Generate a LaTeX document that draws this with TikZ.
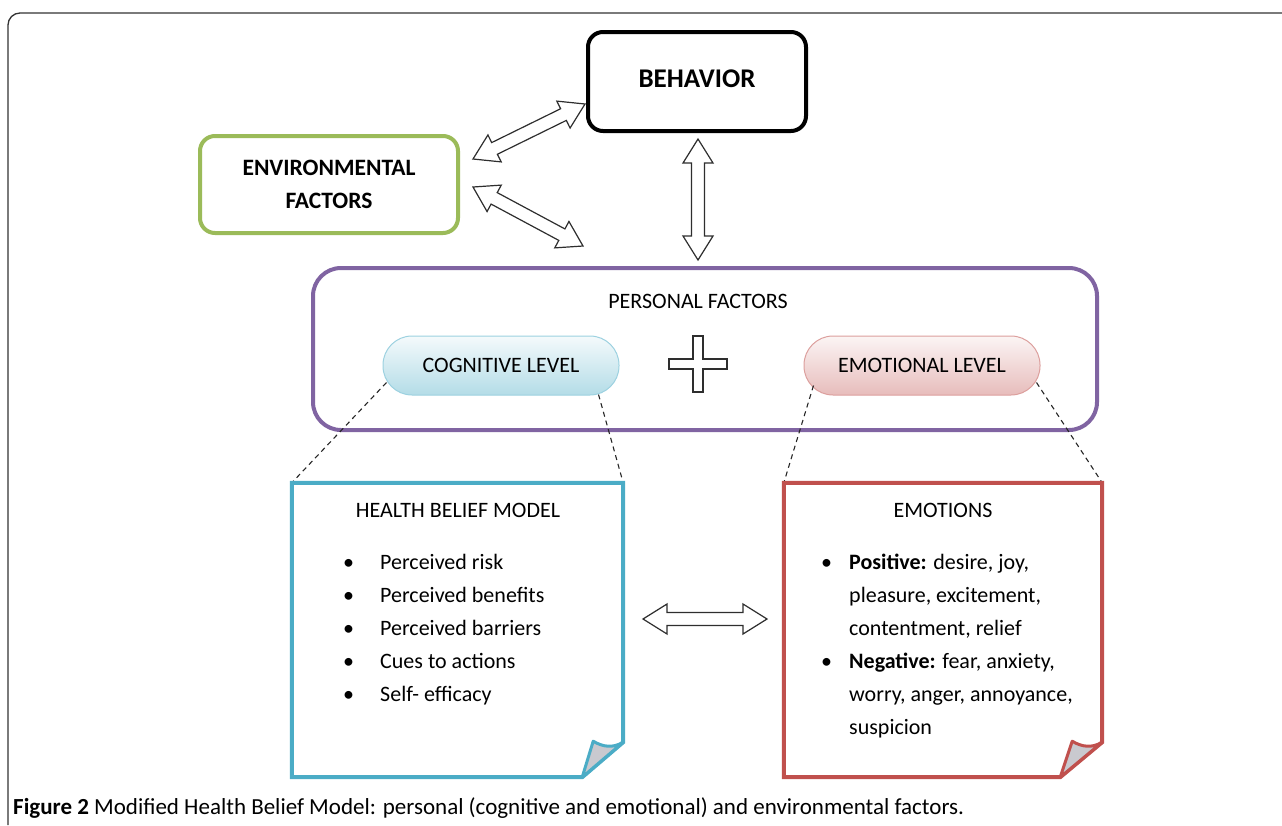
\documentclass[tikz,border=0pt]{standalone}
\usepackage{fontspec}
\setmainfont{Carlito}
\usetikzlibrary{calc}
\definecolor{envgreen}{HTML}{9BBB59}
\definecolor{persviolet}{HTML}{8064A2}
\definecolor{hbmblue}{HTML}{4BACC6}
\definecolor{emored}{HTML}{C0504D}
\definecolor{foldgray}{HTML}{C9C9CF}
\definecolor{arrowgray}{HTML}{2E2E2E}
\newcommand\hollowarrow[2]{%
  \path ($(#1)!24pt!(#2)$) coordinate (#1-h) ($(#2)!24pt!(#1)$) coordinate (#2-h);
  \draw[blockarrow] (#1) -- ($(#1-h)!15pt!90:(#2)$) -- ($(#1-h)!6.5pt!90:(#2)$)
    -- ($(#2-h)!6.5pt!-90:(#1)$) -- ($(#2-h)!15pt!-90:(#1)$) -- (#2)
    -- ($(#2-h)!15pt!90:(#1)$) -- ($(#2-h)!6.5pt!90:(#1)$)
    -- ($(#1-h)!6.5pt!-90:(#2)$) -- ($(#1-h)!15pt!-90:(#2)$) -- cycle;}
\tikzset{
  blockarrow/.style={draw=arrowgray, fill=white, line width=1.2pt, line join=miter},
  framebox/.style={rectangle, rounded corners=15pt, line width=4pt, align=center},
  pill/.style={rectangle, rounded corners=29pt, minimum width=236pt, minimum height=59pt, line width=1pt, font=\fontsize{22}{26}\selectfont},
  dashline/.style={black!85, line width=1.1pt, dash pattern=on 5pt off 4pt},
  paper/.style={rectangle, minimum width=331pt, minimum height=294pt},
  title/.style={font=\fontsize{22}{26}\selectfont},
  item/.style={anchor=mid west, font=\fontsize{22}{26}\selectfont, inner sep=0pt},
}
\begin{document}
\begin{tikzpicture}[x=1pt, y=-1pt]
\useasboundingbox (0,0) rectangle (1282,825);
% outer frame
\draw[black!80, line width=1.3pt] (1282,13) -- (20,13) arc[start angle=90, end angle=180, radius=12pt] -- (8,825);

% main boxes
\node[framebox, draw=black, minimum width=218pt, minimum height=99pt, font=\bfseries\fontsize{27}{30}\selectfont, text depth=6pt] (beh) at (697,81.5) {BEHAVIOR};
\node[framebox, draw=envgreen, minimum width=258pt, minimum height=97pt, font=\bfseries\fontsize{23.5}{33}\selectfont] (env) at (329,184.5) {ENVIRONMENTAL\\FACTORS};
\node[framebox, draw=persviolet, rounded corners=28pt, minimum width=784pt, minimum height=162pt] (pers) at (705,349) {};
\node[title] (perst) at (698,301) {PERSONAL FACTORS};

% pills
\node[pill, draw=hbmblue!55, top color=hbmblue!6, bottom color=hbmblue!42] (cog) at (501,365.5) {COGNITIVE LEVEL};
\node[pill, draw=emored!55, top color=emored!6, bottom color=emored!38] (emo) at (922,365.5) {EMOTIONAL LEVEL};

% plus sign
\coordinate (plus) at (698,364);
\draw[blockarrow] ($(plus)+(-5,-28)$) -- ($(plus)+(5,-28)$) -- ($(plus)+(5,-5)$) -- ($(plus)+(29,-5)$)
  -- ($(plus)+(29,5)$) -- ($(plus)+(5,5)$) -- ($(plus)+(5,28)$) -- ($(plus)+(-5,28)$)
  -- ($(plus)+(-5,5)$) -- ($(plus)+(-29,5)$) -- ($(plus)+(-29,-5)$) -- ($(plus)+(-5,-5)$) -- cycle;

% paper boxes
\node[paper] (hbm) at (457.5,630) {};
\node[paper, minimum width=318pt] (emb) at (943,630) {};

% dashed connectors
\draw[dashline] ($(cog.south west)+(4,-13)$) -- (hbm.north west);
\draw[dashline] ($(cog.south east)+(-21,-1)$) -- (hbm.north east);
\draw[dashline] ($(emo.south west)+(10,-10)$) -- (emb.north west);
\draw[dashline] ($(emo.south east)+(-4,-13)$) -- (emb.north east);

% paper outlines
\draw[hbmblue, line width=4pt, line join=miter] (hbm.north west) -- (hbm.north east) -- ($(hbm.south east)+(0,-35)$) -- ($(hbm.south east)+(-41,0)$) -- (hbm.south west) -- cycle;
\filldraw[hbmblue, fill=foldgray, line width=3pt, line join=round] ($(hbm.south east)+(-41,0)$) -- ($(hbm.south east)+(-30,-36)$) .. controls ($(hbm.south east)+(-20,-30)$) and ($(hbm.south east)+(-10,-29)$) .. ($(hbm.south east)+(0,-35)$) -- cycle;
\draw[emored, line width=4pt, line join=miter] (emb.north west) -- (emb.north east) -- ($(emb.south east)+(0,-35)$) -- ($(emb.south east)+(-42,0)$) -- (emb.south west) -- cycle;
\filldraw[emored, fill=foldgray, line width=3pt, line join=round] ($(emb.south east)+(-42,0)$) -- ($(emb.south east)+(-30,-36)$) .. controls ($(emb.south east)+(-20,-30)$) and ($(emb.south east)+(-10,-29)$) .. ($(emb.south east)+(0,-35)$) -- cycle;

% texts in paper boxes
\node[title] (hbmt) at (458,510) {HEALTH BELIEF MODEL};
\foreach \i/\t in {0/Perceived risk, 1/Perceived benefits, 2/Perceived barriers, 3/Cues to actions, 4/Self- efficacy} {
  \node[item] (hb\i) at (380,567+33*\i) {\t};
  \node[item] (hbb\i) at (343,567+33*\i) {•};
}
\node[title] (embt) at (943,510) {EMOTIONS};
\node[item] (eb0) at (821,567) {•};
\node[item] (eb1) at (821,666) {•};
\foreach \i/\t in {0/{\textbf{Positive:} desire, joy,}, 1/{pleasure, excitement,}, 2/{contentment, relief}, 3/{\textbf{Negative:} fear, anxiety,}, 4/{worry, anger, annoyance,}, 5/{suspicion}} {
  \node[item] (em\i) at (849,567+33*\i) {\t};
}

% block arrows
\coordinate (eb-a) at (473,159); \coordinate (eb-b) at (585,104);
\coordinate (ep-a) at (473,187); \coordinate (ep-b) at (583,246);
\coordinate (bp-a) at (698,139); \coordinate (bp-b) at (698,260);
\coordinate (hm-a) at (643,619); \coordinate (hm-b) at (767,619);
\hollowarrow{eb-a}{eb-b}
\hollowarrow{ep-a}{ep-b}
\hollowarrow{bp-a}{bp-b}
\hollowarrow{hm-a}{hm-b}

% caption
\node[anchor=west, inner sep=0pt, font=\fontsize{23}{27}\selectfont] (cap) at (13,808) {\textbf{Figure 2} Modified Health Belief Model: personal (cognitive and emotional) and environmental factors.};
\end{tikzpicture}
\end{document}
